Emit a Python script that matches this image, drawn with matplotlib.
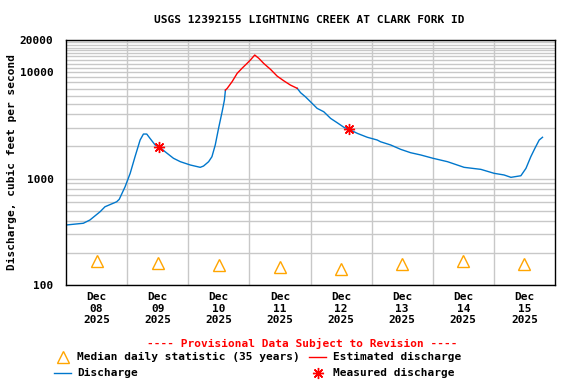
import numpy as np
import matplotlib
matplotlib.use("Agg")
import matplotlib.pyplot as plt
from matplotlib.lines import Line2D
from matplotlib.ticker import FixedLocator, NullFormatter

# hours since 2025-12-08 00:00 and discharge (cfs)
hrs_a = [0, 6.8, 9.4, 13.4, 15.3, 19.9, 20.9, 23.2, 25.2, 27.1, 29.1, 30.4,
         31.7, 33.0, 35.0, 36.7, 38.9, 42.2, 44.9, 48.8, 52.7, 54.0, 56.0,
         57.3, 58.6, 59.9, 61.3, 62.2, 62.6]
q_a = [366, 380, 408, 488, 543, 605, 638, 837, 1119, 1603, 2300, 2617,
       2617, 2380, 2065, 1980, 1786, 1549, 1439, 1340, 1274, 1310, 1439,
       1603, 2065, 2960, 4240, 5460, 6770]

hrs_est = [62.6, 63.3, 65.2, 67.2, 69.1, 71.1, 72.4, 74.1, 75.7, 77.6,
           80.3, 82.9, 85.5, 88.1, 90.8]
q_est = [6770, 7030, 8110, 9720, 10840, 12070, 12970, 14450, 13460, 12070,
         10600, 9160, 8280, 7550, 7030]

hrs_b = [90.8, 92.1, 94.0, 96.0, 98.6, 101.2, 103.9, 106.5, 109.1, 111.1,
         114.4, 118.3, 122.2, 123.5, 127.5, 131.4, 135.3, 139.3, 144.1,
         149.8, 156.3, 162.9, 168.1, 172.0, 174.7, 178.6, 180.6, 182.5,
         184.1, 185.8, 187.1]
q_b = [7030, 6400, 5860, 5260, 4560, 4240, 3670, 3340, 3030, 2900, 2655,
       2440, 2300, 2215, 2065, 1880, 1748, 1664, 1549, 1439, 1274, 1219,
       1119, 1080, 1026, 1062, 1246, 1603, 1920, 2300, 2440]

hrs_meas = [36.7, 111.1]
q_meas = [1980, 2900]

median_hrs = [12, 36, 60, 84, 108, 132, 156, 180]
median_q = [168, 161, 154, 148, 141, 158, 168, 158]

day_labels = ["Dec\n08\n2025", "Dec\n09\n2025", "Dec\n10\n2025",
              "Dec\n11\n2025", "Dec\n12\n2025", "Dec\n13\n2025",
              "Dec\n14\n2025", "Dec\n15\n2025"]

BLUE = "#0077cc"
RED = "#ff0000"
ORANGE = "#ffa500"
GRID = "#c8c8c8"
FONT = dict(family="DejaVu Sans Mono", weight="bold", size=8)

fig = plt.figure(figsize=(5.76, 3.84), dpi=100)
ax = fig.add_axes([66 / 576, 1 - 285 / 384, 489 / 576, 245 / 384])

ax.set_yscale("log")
ax.set_ylim(100, 20000)
ax.set_xlim(0, 192)

ax.plot(hrs_a, q_a, color=BLUE, lw=1.0, zorder=3)
ax.plot(hrs_b, q_b, color=BLUE, lw=1.0, zorder=3)
ax.plot(hrs_est, q_est, color=RED, lw=1.0, zorder=4)
ax.plot(hrs_meas, q_meas, linestyle="none", marker=(8, 2, 0), ms=8,
        mec=RED, mew=1.0, zorder=5)
ax.plot(hrs_meas, q_meas, linestyle="none", marker="o", ms=2.5, color=RED,
        zorder=5)
ax.plot(median_hrs, median_q, linestyle="none", marker="^", ms=8,
        mfc="none", mec=ORANGE, mew=1.0, zorder=5)

# y axis grid and labels
ax.yaxis.set_major_locator(FixedLocator([100, 1000, 10000, 20000]))
ax.set_yticklabels(["100", "1000", "10000", "20000"], **FONT)
minor_y = ([v * 100 for v in range(2, 10)] + [v * 1000 for v in range(2, 10)]
           + [v * 1000 for v in range(11, 20)])
ax.yaxis.set_minor_locator(FixedLocator(minor_y))
ax.yaxis.set_minor_formatter(NullFormatter())

# x axis: labels at noon, grid at midnight
ax.xaxis.set_major_locator(FixedLocator(median_hrs))
ax.set_xticklabels(day_labels, linespacing=1.2, **FONT)
ax.xaxis.set_minor_locator(FixedLocator([24 * d for d in range(1, 8)]))

ax.tick_params(axis="both", which="both", length=0)
ax.tick_params(axis="y", pad=9)
ax.tick_params(axis="x", pad=5)
ax.grid(True, which="minor", color=GRID, lw=1.0)
ax.grid(True, which="major", axis="y", color=GRID, lw=1.0)
for s in ax.spines.values():
    s.set_linewidth(1.0)
    s.set_color("black")
    s.set_zorder(6)

fig.text(309 / 576, 1 - 20 / 384,
         "USGS 12392155 LIGHTNING CREEK AT CLARK FORK ID",
         ha="center", va="center", **FONT)
fig.text(12 / 576, 1 - 162 / 384, "Discharge, cubic feet per second",
         ha="center", va="center", rotation=90, **FONT)
fig.text(302 / 576, 1 - 343 / 384,
         "---- Provisional Data Subject to Revision ----",
         ha="center", va="center", color=RED, **FONT)

# legend drawn by hand, pixel positions from the reference
def px(x, y):
    return x / 576, 1 - y / 384

r1, r2 = 356.5, 372.5
fig.add_artist(Line2D([px(63, r1)[0]], [px(63, r1)[1]], marker="^", ms=8,
                      mfc="none", mec=ORANGE, mew=1.0, linestyle="none"))
fig.text(*px(77, r1), "Median daily statistic (35 years)", ha="left",
         va="center", **FONT)
fig.add_artist(Line2D([px(309, r1)[0], px(326, r1)[0]],
                      [px(309, r1)[1], px(326, r1)[1]], color=RED, lw=1.0))
fig.text(*px(333, r1), "Estimated discharge", ha="left", va="center", **FONT)
fig.add_artist(Line2D([px(54, r2)[0], px(71, r2)[0]],
                      [px(54, r2)[1], px(71, r2)[1]], color=BLUE, lw=1.0))
fig.text(*px(77, r2), "Discharge", ha="left", va="center", **FONT)
fig.add_artist(Line2D([px(318, r2)[0]], [px(318, r2)[1]], marker=(8, 2, 0),
                      ms=8, mec=RED, mew=1.0, linestyle="none"))
fig.text(*px(333, r2), "Measured discharge", ha="left", va="center", **FONT)

fig.savefig("out.png", dpi=100)
